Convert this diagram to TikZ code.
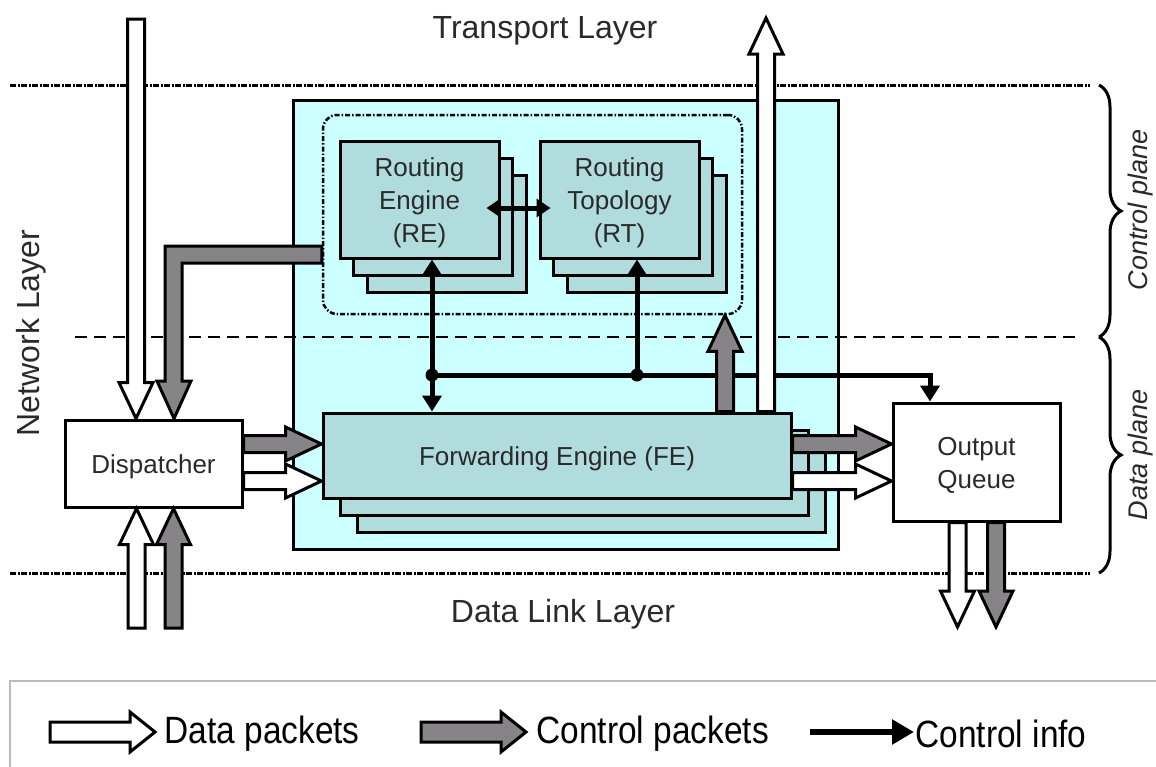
\documentclass[tikz,border=0pt]{standalone}
\usepackage{fontspec}
\setmainfont{Liberation Sans}
\newfontfamily\legendfont[FakeStretch=0.88]{Liberation Sans}
\usetikzlibrary{calc,arrows.meta,decorations.pathreplacing}
\definecolor{cyanbg}{HTML}{CCFFFF}
\definecolor{tealbox}{HTML}{B0DCDE}
\definecolor{ctrlgray}{HTML}{878487}
\definecolor{legendgray}{HTML}{BBBBBB}
\definecolor{txt}{HTML}{2A2A2A}
% fill, start, tip, shaft half width, head half width, head length
\newcommand\fatarrow[6]{%
  \coordinate (fb) at ($(#3)!#6pt!(#2)$);
  \draw[fatline,fill=#1] ($(#2)!#4pt!90:(#3)$) -- ($(fb)!#4pt!90:(#3)$) -- ($(fb)!#5pt!90:(#3)$) -- (#3) -- ($(fb)!#5pt!-90:(#3)$) -- ($(fb)!#4pt!-90:(#3)$) -- ($(#2)!#4pt!-90:(#3)$) -- cycle;}
\tikzset{
  fatline/.style={draw=black,line width=3pt,line join=miter,miter limit=10},
  boxtext/.style={font=\fontsize{26}{33}\selectfont,text=txt,align=center},
  plainbox/.style={draw=black,line width=3pt,fill=white},
  tealnode/.style={draw=black,line width=3pt,fill=tealbox},
  tealshadow/.style={draw=black,line width=3pt,fill=tealbox},
  layertext/.style={font=\fontsize{32}{38}\selectfont,text=txt},
  planetext/.style={font=\fontsize{27}{30}\selectfont\itshape,text=txt},
  layerline/.style={line width=3pt,dash pattern=on 6pt off 1.5pt on 2pt off 1.5pt},
  planeline/.style={line width=2pt,dash pattern=on 12pt off 7pt},
  ctrl/.style={line width=5pt},
  ctip/.tip={Triangle[length=16pt,width=19pt]},
  legtext/.style={font=\legendfont\fontsize{38}{40}\selectfont,anchor=west}
}
\begin{document}
\begin{tikzpicture}[x=1pt,y=-1pt]
\useasboundingbox (0,0) rectangle (1156,766);
% cyan container
\draw[line width=3pt,fill=cyanbg] (293,100) rectangle (838,549);
% plane separator and layer lines
\draw[planeline] (75,337) -- (1075,337);
\draw[layerline] (10,85) -- (1090,85);
\draw[layerline] (10,573) -- (1090,573);
% braces
\draw[line width=3pt,decorate,decoration={brace,amplitude=22pt}] (1099,85) -- (1099,337);
\draw[line width=3pt,decorate,decoration={brace,amplitude=22pt}] (1099,337) -- (1099,573);
\node[planetext,rotate=90] (cpl) at (1141,210) {Control plane};
\node[planetext,rotate=90] (dpl) at (1141,455) {Data plane};
% layer labels
\node[layertext] (tl) at (545,31) {Transport Layer};
\node[layertext] (dll) at (563,614) {Data Link Layer};
\node[layertext,rotate=90] (nl) at (31,333) {Network Layer};
% control group
\node[draw=black,line width=2.5pt,rounded corners=14pt,dash pattern=on 5pt off 2pt on 1.5pt off 2pt,minimum width=419pt,minimum height=199pt] (grp) at (532.5,214.5) {};
% RE with shadows
\draw[tealshadow] (367,175) rectangle (526,292);
\draw[tealshadow] (353,158) rectangle (512,275);
\node[tealnode,minimum width=159pt,minimum height=117pt] (RE) at (419.5,199.5) {};
\node[boxtext] (REt) at ($(RE.center)+(0,3)$) {Routing\\Engine\\(RE)};
% RT with shadows
\draw[tealshadow] (567,175) rectangle (726,292);
\draw[tealshadow] (553,158) rectangle (712,275);
\node[tealnode,minimum width=159pt,minimum height=117pt] (RT) at (619.5,199.5) {};
\node[boxtext] (RTt) at ($(RT.center)+(0,3)$) {Routing\\Topology\\(RT)};
% FE with shadows
\draw[tealshadow] (357,447) rectangle (825,532);
\draw[tealshadow] (340,430) rectangle (808,515);
\node[tealnode,minimum width=468pt,minimum height=85pt] (FE) at (557,455.5) {};
\node[boxtext] (FEt) at ($(FE.center)+(0,3)$) {Forwarding Engine (FE)};
% Dispatcher, Output queue
\node[plainbox,minimum width=177pt,minimum height=87pt] (disp) at (153.5,463.5) {};
\node[boxtext] (dispt) at ($(disp.center)+(0,3)$) {Dispatcher};
\node[plainbox,minimum width=167pt,minimum height=118pt] (OQ) at (976.5,462) {};
\node[boxtext] (OQt) at ($(OQ.center)+(0,3)$) {Output\\Queue};
% control info lines
\coordinate (j1) at (432,375);
\coordinate (j2) at (637,375);
\coordinate (qbend) at (930,375);
\draw[ctrl,{ctip}-{ctip}] (432,0 |- RE.south) -- (432,0 |- FE.north);
\draw[ctrl,-{ctip}] (j2) -- (637,0 |- RT.south);
\draw[ctrl,-{ctip}] (j1) -- (qbend) -- (930,0 |- OQ.north);
\fill (j1) circle (6.5pt);
\fill (j2) circle (6.5pt);
\draw[ctrl,{Triangle[length=14pt,width=18pt]}-{Triangle[length=14pt,width=18pt]}] ($(RE.east)+(-14,8.5)$) -- ($(RT.west)+(12,8.5)$);
% fat arrows: top into dispatcher
\coordinate (a1s) at (136,19);
\coordinate (a1t) at (136,0 |- disp.north);
\fatarrow{white}{a1s}{a1t}{8.5}{17}{36}
\draw[fatline,fill=ctrlgray] (grp.west |- 0,246) -- (165,246) -- (165,381) -- (157,381) -- (174,0 |- disp.north) -- (191,381) -- (182,381) -- (182,263) -- (grp.west |- 0,263) -- cycle;
% bottom into dispatcher
\coordinate (a2s) at (136.5,628);
\coordinate (a2t) at (136.5,0 |- disp.south);
\fatarrow{white}{a2s}{a2t}{8.5}{17}{36}
\coordinate (a3s) at (173.5,628);
\coordinate (a3t) at (173.5,0 |- disp.south);
\fatarrow{ctrlgray}{a3s}{a3t}{8.5}{17}{36}
% dispatcher to FE
\coordinate (a4s) at (disp.east |- 0,444);
\coordinate (a4t) at (FE.west |- 0,444);
\fatarrow{ctrlgray}{a4s}{a4t}{8.5}{17}{36}
\coordinate (a5s) at (disp.east |- 0,481);
\coordinate (a5t) at (FE.west |- 0,481);
\fatarrow{white}{a5s}{a5t}{8.5}{17}{36}
% FE to output queue
\coordinate (a6s) at (FE.east |- 0,444);
\coordinate (a6t) at (OQ.west |- 0,444);
\fatarrow{ctrlgray}{a6s}{a6t}{8.5}{17}{36}
\coordinate (a7s) at (FE.east |- 0,481);
\coordinate (a7t) at (OQ.west |- 0,481);
\fatarrow{white}{a7s}{a7t}{8.5}{17}{36}
% FE up to control group, FE up to transport
\coordinate (a8s) at (725,0 |- FE.north);
\coordinate (a8t) at (725,0 |- grp.south);
\fatarrow{ctrlgray}{a8s}{a8t}{8.5}{17}{36}
\coordinate (a9s) at (766,0 |- FE.north);
\coordinate (a9t) at (766,18);
\fatarrow{white}{a9s}{a9t}{8.5}{17}{36}
% output queue down
\coordinate (a10s) at (957.5,0 |- OQ.south);
\coordinate (a10t) at (957.5,627);
\fatarrow{white}{a10s}{a10t}{8.5}{17}{36}
\coordinate (a11s) at (996,0 |- OQ.south);
\coordinate (a11t) at (996,627);
\fatarrow{ctrlgray}{a11s}{a11t}{8.5}{17}{36}
% legend
\draw[legendgray,line width=1.5pt] (10,681) rectangle (1175,790);
\coordinate (l1s) at (50,732);
\coordinate (l1t) at (155,732);
\fatarrow{white}{l1s}{l1t}{10}{20}{25}
\node[legtext] (lt1) at (161,734) {Data packets};
\coordinate (l2s) at (421,732);
\coordinate (l2t) at (526,732);
\fatarrow{ctrlgray}{l2s}{l2t}{10}{20}{25}
\node[legtext] (lt2) at (533,734) {Control packets};
\coordinate (l3s) at (810,732);
\coordinate (l3t) at (914,732);
\draw[line width=6pt,-{Triangle[length=22pt,width=24pt]}] (l3s) -- (l3t);
\node[legtext] (lt3) at (912,734) {Control info};
\end{tikzpicture}
\end{document}
